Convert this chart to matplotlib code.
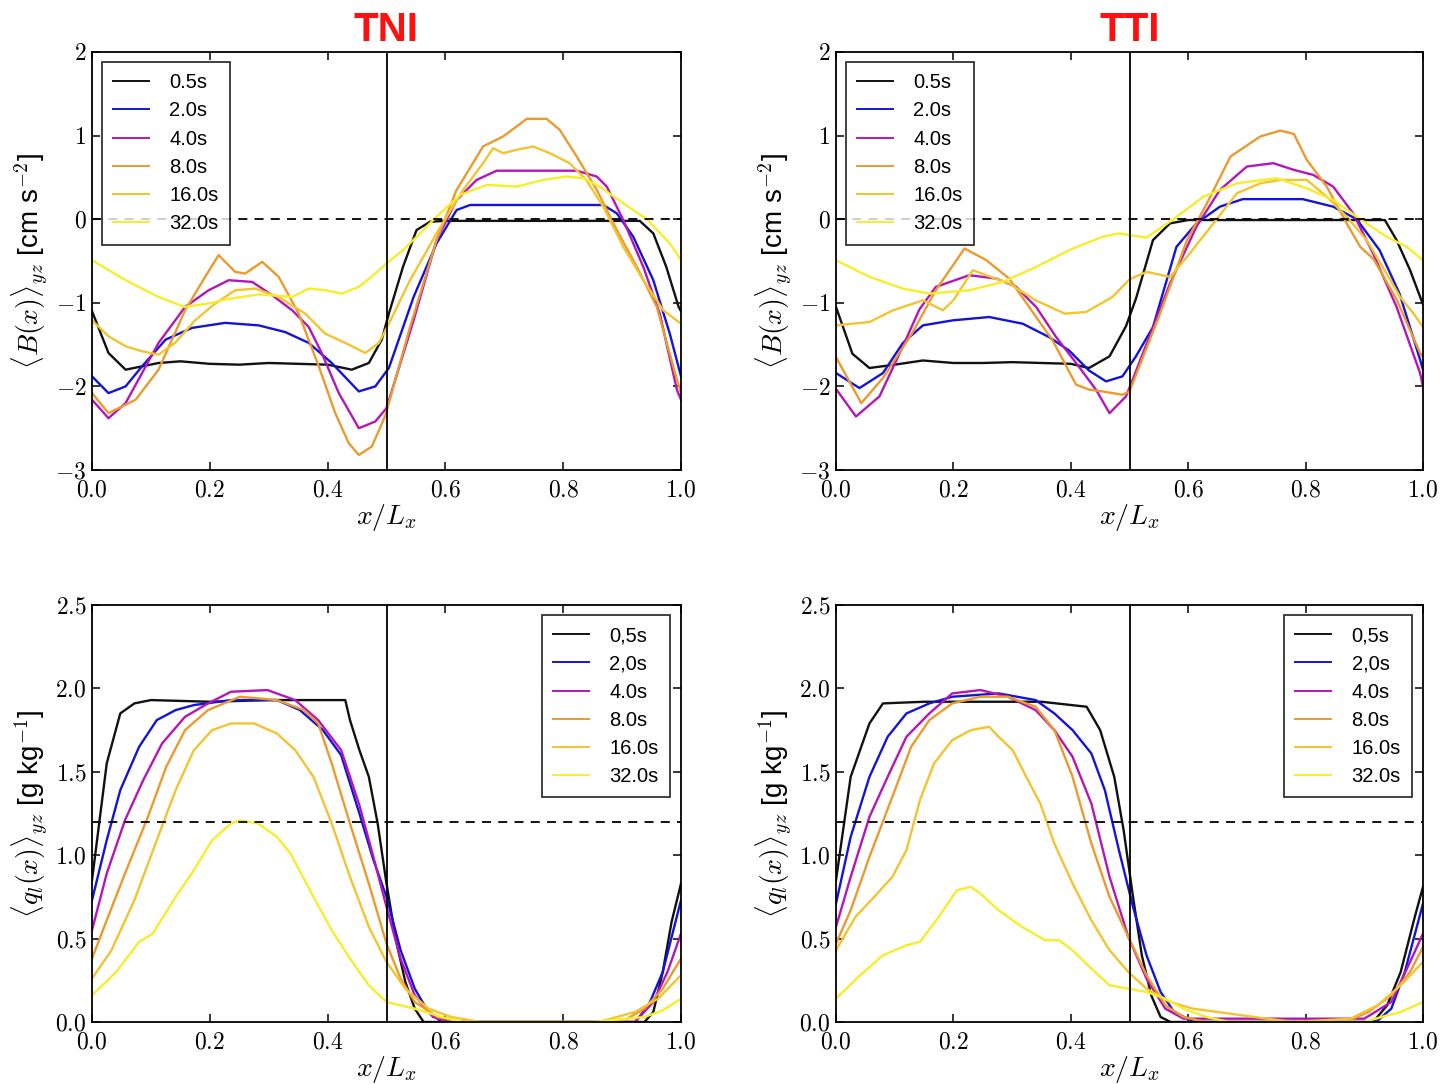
import matplotlib
matplotlib.use("Agg")
import matplotlib.pyplot as plt
from matplotlib.ticker import FuncFormatter, MultipleLocator

plt.rcParams['font.family'] = ['Liberation Sans', 'DejaVu Sans']
plt.rcParams['mathtext.fontset'] = 'cm'

# ---------------- series labels and colours ----------------
labels_buoy = ['0.5s', '2.0s', '4.0s', '8.0s', '16.0s', '32.0s']
labels_ql = ['0,5s', '2,0s', '4.0s', '8.0s', '16.0s', '32.0s']
colors = ['#111111', '#1414d8', '#b416b8', '#eb9a2e', '#f2c430', '#f6ee2a']
titles = ['TNI', 'TTI']

# ---------------- TNI: buoyancy profiles ----------------
tni_b_05_x = [0, 0.028, 0.057, 0.085, 0.113, 0.15, 0.2, 0.25, 0.3, 0.35, 0.4, 0.441, 0.47, 0.492,
              0.504, 0.528, 0.551, 0.574, 0.6, 0.93, 0.953, 0.975, 0.996, 1.0]
tni_b_05_y = [-1.1, -1.6, -1.8, -1.76, -1.72, -1.7, -1.73, -1.74, -1.72, -1.73, -1.74, -1.8, -1.72, -1.44,
              -1.13, -0.57, -0.13, -0.03, -0.02, -0.02, -0.17, -0.57, -1.05, -1.1]
tni_b_2_x = [0, 0.028, 0.057, 0.085, 0.125, 0.17, 0.226, 0.283, 0.328, 0.368, 0.407, 0.453, 0.481, 0.504,
             0.546, 0.585, 0.619, 0.642, 0.868, 0.891, 0.919, 0.953, 0.981, 1.0]
tni_b_2_y = [-1.88, -2.08, -2.0, -1.76, -1.44, -1.3, -1.24, -1.27, -1.35, -1.48, -1.72, -2.06, -2.0, -1.78,
             -0.93, -0.29, 0.11, 0.17, 0.17, 0.07, -0.21, -0.73, -1.37, -1.88]
tni_b_4_x = [0, 0.028, 0.057, 0.085, 0.113, 0.158, 0.198, 0.232, 0.272, 0.306, 0.34, 0.368, 0.39, 0.419,
             0.453, 0.481, 0.5, 0.546, 0.585, 0.619, 0.653, 0.687, 0.823, 0.857, 0.874, 0.902, 0.936,
             0.964, 0.993, 1.0]
tni_b_4_y = [-2.16, -2.38, -2.2, -1.84, -1.48, -1.05, -0.85, -0.73, -0.75, -0.91, -1.09, -1.29, -1.6, -2.08,
             -2.5, -2.42, -2.26, -1.21, -0.25, 0.23, 0.47, 0.58, 0.58, 0.51, 0.39, -0.01, -0.57,
             -1.13, -2.04, -2.16]
tni_b_8_x = [0, 0.028, 0.051, 0.074, 0.113, 0.158, 0.192, 0.215, 0.243, 0.26, 0.289, 0.317, 0.351, 0.385,
             0.413, 0.436, 0.453, 0.475, 0.498, 0.54, 0.585, 0.619, 0.664, 0.698, 0.721, 0.738, 0.772,
             0.794, 0.823, 0.857, 0.891, 0.925, 0.959, 0.993, 1.0]
tni_b_8_y = [-2.08, -2.32, -2.24, -2.16, -1.8, -1.09, -0.69, -0.43, -0.63, -0.65, -0.51, -0.69, -1.13, -1.76,
             -2.32, -2.68, -2.82, -2.72, -2.35, -1.29, -0.25, 0.35, 0.87, 0.99, 1.11, 1.2, 1.2,
             1.07, 0.75, 0.35, -0.13, -0.57, -1.05, -1.92, -2.08]
tni_b_16_x = [0, 0.028, 0.057, 0.085, 0.113, 0.141, 0.175, 0.209, 0.243, 0.277, 0.317, 0.362, 0.396, 0.43,
              0.464, 0.487, 0.504, 0.54, 0.585, 0.63, 0.664, 0.681, 0.698, 0.721, 0.749, 0.777, 0.811,
              0.839, 0.868, 0.902, 0.936, 0.97, 1.0]
tni_b_16_y = [-1.21, -1.4, -1.52, -1.58, -1.62, -1.48, -1.21, -1.01, -0.85, -0.83, -0.93, -1.13, -1.37, -1.48,
              -1.6, -1.48, -1.25, -0.73, -0.17, 0.35, 0.67, 0.85, 0.79, 0.83, 0.87, 0.79, 0.67,
              0.47, 0.15, -0.33, -0.73, -1.09, -1.25]
tni_b_32_x = [0, 0.057, 0.113, 0.158, 0.204, 0.226, 0.283, 0.34, 0.368, 0.396, 0.424, 0.453, 0.481, 0.5,
              0.528, 0.557, 0.585, 0.625, 0.67, 0.721, 0.766, 0.805, 0.834, 0.862, 0.902, 0.942, 0.981, 1.0]
tni_b_32_y = [-0.49, -0.73, -0.93, -1.05, -1.0, -0.96, -0.9, -0.93, -0.83, -0.85, -0.89, -0.81, -0.65, -0.53,
              -0.37, -0.17, 0.03, 0.29, 0.41, 0.39, 0.47, 0.51, 0.49, 0.39, 0.19, 0.0, -0.29, -0.49]

# ---------------- TTI: buoyancy profiles ----------------
tti_b_05_x = [0, 0.028, 0.057, 0.1, 0.148, 0.2, 0.25, 0.3, 0.35, 0.4, 0.431, 0.466, 0.494, 0.511, 0.54,
              0.569, 0.6, 0.935, 0.955, 0.978, 1.0]
tti_b_05_y = [-1.05, -1.61, -1.78, -1.74, -1.69, -1.72, -1.72, -1.71, -1.72, -1.73, -1.78, -1.64, -1.28,
              -0.95, -0.25, -0.05, -0.01, -0.01, -0.25, -0.61, -1.02]
tti_b_2_x = [0, 0.04, 0.08, 0.114, 0.148, 0.199, 0.261, 0.318, 0.363, 0.397, 0.431, 0.46, 0.488, 0.511,
             0.54, 0.58, 0.614, 0.654, 0.693, 0.795, 0.847, 0.887, 0.926, 0.96, 0.995, 1.0]
tti_b_2_y = [-1.84, -2.02, -1.84, -1.48, -1.27, -1.21, -1.17, -1.25, -1.41, -1.57, -1.81, -1.94, -1.88, -1.64,
             -1.29, -0.33, -0.05, 0.15, 0.24, 0.24, 0.15, 0.0, -0.37, -0.89, -1.68, -1.8]
tti_b_4_x = [0, 0.034, 0.074, 0.114, 0.142, 0.17, 0.227, 0.273, 0.307, 0.341, 0.375, 0.409, 0.443, 0.466,
             0.494, 0.507, 0.569, 0.614, 0.654, 0.7, 0.745, 0.78, 0.813, 0.847, 0.881, 0.915, 0.955,
             0.995, 1.0]
tti_b_4_y = [-2.03, -2.36, -2.12, -1.52, -1.08, -0.81, -0.67, -0.71, -0.81, -1.05, -1.41, -1.72, -2.04, -2.32,
             -2.12, -1.89, -0.77, -0.09, 0.35, 0.63, 0.67, 0.59, 0.53, 0.39, 0.07, -0.41, -1.05,
             -1.84, -2.0]
tti_b_8_x = [0, 0.043, 0.08, 0.13, 0.17, 0.219, 0.256, 0.295, 0.369, 0.409, 0.432, 0.454, 0.488, 0.5,
             0.552, 0.598, 0.632, 0.672, 0.723, 0.757, 0.78, 0.802, 0.836, 0.87, 0.893, 0.916, 0.955,
             0.995, 1.0]
tti_b_8_y = [-1.65, -2.2, -1.9, -1.36, -0.85, -0.35, -0.49, -0.71, -1.45, -1.98, -2.04, -2.06, -2.1, -2.06,
             -1.13, -0.25, 0.19, 0.75, 0.99, 1.06, 1.02, 0.71, 0.39, -0.05, -0.33, -0.48, -0.96,
             -1.6, -1.65]
tti_b_16_x = [0, 0.057, 0.097, 0.148, 0.182, 0.2, 0.233, 0.295, 0.34, 0.39, 0.426, 0.471, 0.5, 0.529,
              0.569, 0.598, 0.643, 0.683, 0.723, 0.757, 0.802, 0.836, 0.87, 0.904, 0.938, 0.961, 0.984, 1.0]
tti_b_16_y = [-1.27, -1.23, -1.09, -0.97, -1.09, -0.97, -0.61, -0.77, -0.97, -1.13, -1.11, -0.93, -0.72, -0.63,
              -0.69, -0.45, -0.05, 0.31, 0.43, 0.47, 0.47, 0.27, 0.03, -0.25, -0.65, -0.93, -1.13, -1.29]
tti_b_32_x = [0, 0.057, 0.114, 0.159, 0.227, 0.284, 0.341, 0.397, 0.454, 0.483, 0.5, 0.529, 0.575, 0.626,
              0.683, 0.751, 0.802, 0.847, 0.893, 0.938, 0.972, 1.0]
tti_b_32_y = [-0.49, -0.69, -0.83, -0.89, -0.85, -0.75, -0.57, -0.37, -0.21, -0.17, -0.19, -0.22, 0.0, 0.27,
              0.43, 0.49, 0.37, 0.23, 0.0, -0.21, -0.33, -0.49]

# ---------------- TNI: liquid water profiles ----------------
tni_q_05_x = [0, 0.025, 0.048, 0.072, 0.1, 0.2, 0.3, 0.4, 0.43, 0.438, 0.454, 0.47, 0.485, 0.5, 0.516,
              0.532, 0.548, 0.563, 0.938, 0.953, 0.969, 0.984, 1.0]
tni_q_05_y = [0.85, 1.55, 1.85, 1.91, 1.93, 1.92, 1.93, 1.93, 1.93, 1.81, 1.63, 1.47, 1.19, 0.83, 0.49,
              0.24, 0.08, 0.0, 0.0, 0.06, 0.3, 0.6, 0.83]
tni_q_2_x = [0, 0.025, 0.048, 0.08, 0.11, 0.142, 0.173, 0.236, 0.314, 0.353, 0.392, 0.423, 0.454, 0.477,
             0.5, 0.524, 0.548, 0.571, 0.594, 0.922, 0.945, 0.969, 1.0]
tni_q_2_y = [0.73, 1.09, 1.39, 1.65, 1.81, 1.87, 1.9, 1.93, 1.93, 1.87, 1.75, 1.6, 1.25, 0.98,
             0.75, 0.43, 0.2, 0.06, 0.0, 0.0, 0.1, 0.3, 0.73]
tni_q_4_x = [0, 0.025, 0.056, 0.087, 0.119, 0.158, 0.197, 0.236, 0.298, 0.345, 0.384, 0.423, 0.454, 0.477,
             0.5, 0.524, 0.548, 0.579, 0.61, 0.922, 0.953, 0.977, 1.0]
tni_q_4_y = [0.55, 0.89, 1.21, 1.45, 1.67, 1.83, 1.91, 1.98, 1.99, 1.93, 1.81, 1.63, 1.3, 1.0,
             0.69, 0.38, 0.16, 0.03, 0.0, 0.0, 0.12, 0.3, 0.53]
tni_q_8_x = [0, 0.025, 0.056, 0.095, 0.126, 0.158, 0.197, 0.251, 0.314, 0.36, 0.384, 0.407, 0.438, 0.47,
             0.5, 0.524, 0.548, 0.587, 0.63, 0.899, 0.938, 0.969, 1.0]
tni_q_8_y = [0.38, 0.61, 0.89, 1.23, 1.53, 1.75, 1.87, 1.95, 1.93, 1.87, 1.79, 1.55, 1.19, 0.83,
             0.47, 0.26, 0.12, 0.03, 0.0, 0.0, 0.08, 0.2, 0.38]
tni_q_16_x = [0, 0.033, 0.072, 0.11, 0.142, 0.173, 0.204, 0.236, 0.275, 0.314, 0.345, 0.376, 0.407, 0.438,
              0.47, 0.5, 0.532, 0.571, 0.61, 0.66, 0.86, 0.922, 0.961, 1.0]
tni_q_16_y = [0.26, 0.43, 0.73, 1.09, 1.39, 1.63, 1.75, 1.79, 1.79, 1.73, 1.63, 1.47, 1.19, 0.87,
              0.57, 0.36, 0.2, 0.08, 0.03, 0.0, 0.0, 0.06, 0.14, 0.28]
tni_q_32_x = [0, 0.041, 0.08, 0.103, 0.142, 0.173, 0.204, 0.236, 0.251, 0.282, 0.314, 0.337, 0.376, 0.407,
              0.438, 0.47, 0.5, 0.548, 0.594, 0.63, 0.85, 0.938, 0.969, 1.0]
tni_q_32_y = [0.16, 0.3, 0.48, 0.53, 0.75, 0.91, 1.09, 1.19, 1.21, 1.19, 1.11, 1.01, 0.75, 0.55,
              0.38, 0.22, 0.12, 0.08, 0.03, 0.0, 0.0, 0.03, 0.07, 0.14]

# ---------------- TTI: liquid water profiles ----------------
tti_q_05_x = [0, 0.025, 0.057, 0.08, 0.15, 0.25, 0.35, 0.427, 0.45, 0.474, 0.49, 0.506, 0.521, 0.537,
              0.553, 0.57, 0.915, 0.939, 0.962, 0.986, 1.0]
tti_q_05_y = [0.85, 1.47, 1.79, 1.91, 1.92, 1.92, 1.92, 1.89, 1.75, 1.47, 1.15, 0.75, 0.4, 0.16,
              0.03, 0.0, 0.0, 0.1, 0.3, 0.63, 0.81]
tti_q_2_x = [0, 0.025, 0.057, 0.088, 0.12, 0.159, 0.198, 0.277, 0.34, 0.372, 0.403, 0.435, 0.458, 0.482,
             0.506, 0.529, 0.553, 0.576, 0.61, 0.92, 0.946, 0.969, 1.0]
tti_q_2_y = [0.71, 1.11, 1.47, 1.71, 1.85, 1.91, 1.95, 1.97, 1.93, 1.85, 1.75, 1.61, 1.39, 1.03,
             0.69, 0.4, 0.18, 0.06, 0.0, 0.0, 0.08, 0.3, 0.71]
tti_q_4_x = [0, 0.025, 0.057, 0.088, 0.12, 0.159, 0.198, 0.246, 0.293, 0.34, 0.372, 0.403, 0.435, 0.466,
             0.498, 0.529, 0.561, 0.592, 0.9, 0.946, 0.978, 1.0]
tti_q_4_y = [0.57, 0.87, 1.23, 1.47, 1.71, 1.85, 1.97, 1.99, 1.95, 1.87, 1.75, 1.59, 1.31, 0.87,
             0.51, 0.26, 0.08, 0.02, 0.02, 0.12, 0.36, 0.53]
tti_q_8_x = [0, 0.025, 0.057, 0.096, 0.128, 0.159, 0.198, 0.246, 0.293, 0.34, 0.372, 0.403, 0.435, 0.466,
             0.498, 0.529, 0.561, 0.592, 0.63, 0.868, 0.907, 0.946, 0.978, 1.0]
tti_q_8_y = [0.47, 0.67, 0.99, 1.35, 1.65, 1.81, 1.91, 1.95, 1.95, 1.89, 1.75, 1.47, 1.07, 0.75,
             0.51, 0.28, 0.1, 0.03, 0.0, 0.0, 0.06, 0.16, 0.3, 0.45]
tti_q_16_x = [0, 0.033, 0.065, 0.096, 0.12, 0.143, 0.167, 0.198, 0.23, 0.261, 0.277, 0.301, 0.324, 0.348,
              0.372, 0.403, 0.435, 0.466, 0.498, 0.529, 0.569, 0.608, 0.671, 0.734, 0.78, 0.876, 0.923,
              0.962, 1.0]
tti_q_16_y = [0.43, 0.63, 0.75, 0.87, 1.03, 1.33, 1.55, 1.69, 1.75, 1.77, 1.71, 1.63, 1.47, 1.31,
              1.07, 0.83, 0.61, 0.43, 0.3, 0.2, 0.12, 0.08, 0.05, 0.02, 0.0, 0.02, 0.1,
              0.22, 0.36]
tti_q_32_x = [0, 0.041, 0.08, 0.12, 0.143, 0.175, 0.206, 0.23, 0.246, 0.277, 0.317, 0.356, 0.38, 0.403,
              0.435, 0.466, 0.498, 0.529, 0.561, 0.592, 0.631, 0.67, 0.9, 0.939, 0.962, 1.0]
tti_q_32_y = [0.14, 0.28, 0.4, 0.46, 0.48, 0.63, 0.79, 0.81, 0.77, 0.67, 0.57, 0.49, 0.49, 0.43,
              0.32, 0.22, 0.2, 0.18, 0.14, 0.08, 0.03, 0.0, 0.0, 0.04, 0.06, 0.12]

buoy_panels = [
    [(tni_b_05_x, tni_b_05_y), (tni_b_2_x, tni_b_2_y), (tni_b_4_x, tni_b_4_y),
     (tni_b_8_x, tni_b_8_y), (tni_b_16_x, tni_b_16_y), (tni_b_32_x, tni_b_32_y)],
    [(tti_b_05_x, tti_b_05_y), (tti_b_2_x, tti_b_2_y), (tti_b_4_x, tti_b_4_y),
     (tti_b_8_x, tti_b_8_y), (tti_b_16_x, tti_b_16_y), (tti_b_32_x, tti_b_32_y)],
]
ql_panels = [
    [(tni_q_05_x, tni_q_05_y), (tni_q_2_x, tni_q_2_y), (tni_q_4_x, tni_q_4_y),
     (tni_q_8_x, tni_q_8_y), (tni_q_16_x, tni_q_16_y), (tni_q_32_x, tni_q_32_y)],
    [(tti_q_05_x, tti_q_05_y), (tti_q_2_x, tti_q_2_y), (tti_q_4_x, tti_q_4_y),
     (tti_q_8_x, tti_q_8_y), (tti_q_16_x, tti_q_16_y), (tti_q_32_x, tti_q_32_y)],
]

W, H = 1447, 1084
fig = plt.figure(figsize=(W / 100, H / 100), dpi=100)


def px_axes(left, top, right, bottom):
    return fig.add_axes([left / W, 1 - bottom / H, (right - left) / W, (bottom - top) / H])


def style_axes(ax, ylim, ystep, yfmt):
    ax.set_xlim(0, 1)
    ax.set_ylim(*ylim)
    ax.xaxis.set_major_locator(MultipleLocator(0.2))
    ax.yaxis.set_major_locator(MultipleLocator(ystep))
    ax.xaxis.set_major_formatter(FuncFormatter(lambda v, p: r'$%.1f$' % v))
    ax.yaxis.set_major_formatter(FuncFormatter(yfmt))
    ax.tick_params(direction='in', top=True, right=True, length=6, width=1.1,
                   labelsize=17)
    ax.tick_params(axis='x', pad=7)
    ax.tick_params(axis='y', pad=4)
    for s in ax.spines.values():
        s.set_linewidth(1.3)
    ax.set_xlabel(r'$x/L_x$', fontsize=20, labelpad=0)


def int_fmt(v, p):
    return r'$%d$' % round(v)


def dec_fmt(v, p):
    return r'$%.1f$' % v


def add_legend(ax, loc, anchor):
    leg = ax.legend(loc=loc, bbox_to_anchor=anchor, fontsize=14.5, frameon=True,
                    fancybox=False, handlelength=1.8, handletextpad=1.0,
                    labelspacing=0.46, borderpad=0.55, borderaxespad=0.0)
    leg.get_frame().set_edgecolor('black')
    leg.get_frame().set_linewidth(1.3)
    for ln in leg.get_lines():
        ln.set_linewidth(1.4)
    return leg


col_px = [(92, 681), (836, 1423)]

for i in range(2):
    l, r = col_px[i]
    # top row: buoyancy
    ax = px_axes(l, 52, r, 470)
    for (xs, ys), c, lab in zip(buoy_panels[i], colors, labels_buoy):
        ax.plot(xs, ys, color=c, lw=1.7, label=lab)
    ax.axhline(0.0, color='black', ls='--', lw=1.3, dashes=(5, 4))
    ax.axvline(0.5, color='black', lw=1.3)
    style_axes(ax, (-3, 2), 1, int_fmt)
    ax.set_ylabel(r'$\langle B(x)\rangle_{yz}$ [cm s$^{-2}$]', fontsize=20, labelpad=4)
    add_legend(ax, 'upper left', (0.017, 0.976))
    ax.set_title(titles[i], color='#ff1010', fontsize=29, fontweight='bold', pad=8)

    # bottom row: liquid water
    ax = px_axes(l, 605, r, 1022)
    for (xs, ys), c, lab in zip(ql_panels[i], colors, labels_ql):
        ax.plot(xs, ys, color=c, lw=1.7, label=lab)
    ax.axhline(1.2, color='black', ls='--', lw=1.3, dashes=(5, 4))
    ax.axvline(0.5, color='black', lw=1.3)
    style_axes(ax, (0, 2.5), 0.5, dec_fmt)
    ax.set_ylabel(r'$\langle q_l(x)\rangle_{yz}$ [g kg$^{-1}$]', fontsize=20, labelpad=4)
    add_legend(ax, 'upper right', (0.981, 0.976))

fig.savefig('out.png', dpi=100)
